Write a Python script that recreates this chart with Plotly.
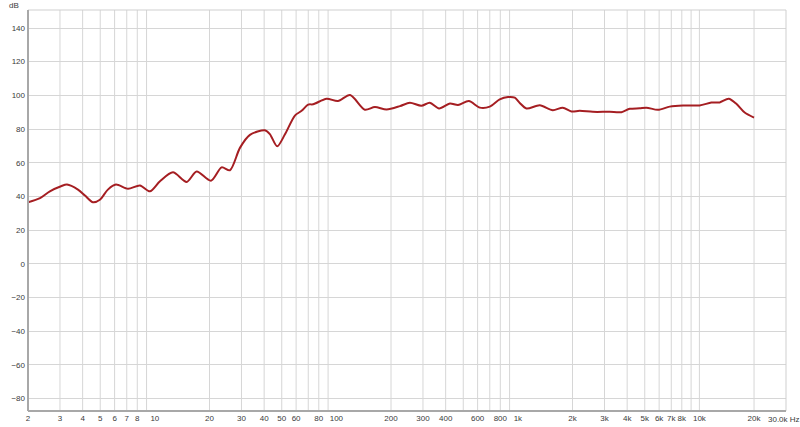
import plotly.graph_objects as go

freq_hz = [2, 2.33, 2.64, 3.04, 3.28, 3.77, 4.12, 4.56, 4.98, 5.51, 6.10, 7.11, 8.28, 9.39,
           10.67, 12.58, 14.96, 16.99, 20.36, 23.32, 25.91, 29.42, 33.39, 40.38, 43.0, 47.2,
           52.0, 59.1, 64.3, 69.9, 74.5, 88.3, 102, 119, 143.5, 163, 189, 224, 254, 294, 327,
           368, 422, 468, 537, 617, 700, 794, 883, 962, 1024, 1115, 1320, 1557, 1767, 1973,
           2191, 2584, 3205, 3718, 4131, 4688, 5107, 5914, 6860, 8119, 10030, 11640, 12930,
           14500, 15980, 17760, 20000]
level_db = [36.5, 39.0, 43.0, 46.0, 47.0, 44.0, 40.5, 36.5, 38.0, 44.0, 47.0, 44.5, 46.5, 43.0,
            49.0, 54.3, 48.6, 54.8, 49.3, 57.2, 55.5, 68.8, 76.5, 79.3, 77.0, 69.7,
            76.7, 88.0, 90.8, 94.5, 94.7, 98.0, 96.6, 100.2, 91.5, 93.1, 91.6, 93.6, 95.6, 93.8, 95.6,
            92.2, 95.2, 94.3, 96.6, 92.7, 93.3, 97.6, 99.0, 98.6, 95.5, 92.2, 94.1, 91.2, 92.7, 90.4,
            90.8, 90.2, 90.2, 90.0, 92.0, 92.3, 92.7, 91.4, 93.3, 94.0, 94.0, 95.7, 95.8,
            98.0, 95.0, 89.8, 86.8]

x_tick_vals = [2, 3, 4, 5, 6, 7, 8, 10, 20, 30, 40, 50, 60, 80, 100, 200, 300, 400, 600, 800,
               1000, 2000, 3000, 4000, 5000, 6000, 7000, 8000, 10000, 20000]
x_tick_text = ["2", "3", "4", "5", "6", "7", "8", "10", "20", "30", "40", "50", "60", "80", "100",
               "200", "300", "400", "600", "800", "1k", "2k", "3k", "4k", "5k", "6k", "7k", "8k",
               "10k", "20k"]
x_grid_vals = [m * d for d in (1, 10, 100, 1000) for m in range(2, 10)] + [10000, 20000]
y_tick_vals = list(range(-80, 141, 20))

fig = go.Figure()
fig.add_trace(go.Scatter(x=freq_hz, y=level_db, mode="lines",
                         line=dict(color="#a51e22", width=2, shape="spline", smoothing=0.8),
                         hoverinfo="skip", showlegend=False))

# vertical grid
for v in x_grid_vals:
    fig.add_shape(type="line", xref="x", yref="paper", x0=v, x1=v, y0=0, y1=1,
                  line=dict(color="#d6d6d6", width=1), layer="below")

fig.update_layout(
    width=800, height=427,
    margin=dict(l=28, r=14, t=10, b=16, autoexpand=False),
    paper_bgcolor="white", plot_bgcolor="white",
    font=dict(family="Liberation Sans, Arial, sans-serif", size=8, color="#3a3a3a"),
    xaxis=dict(type="log", range=[0.30103, 4.4771], tickvals=x_tick_vals, ticktext=x_tick_text,
               showgrid=False, zeroline=False, ticks="", showline=False, tickangle=0,
               automargin=False, ticklabelstandoff=1),
    yaxis=dict(range=[-87.5, 150.7], tickvals=y_tick_vals, showgrid=True, gridcolor="#d6d6d6",
               gridwidth=1, zeroline=False, ticks="", showline=False, automargin=False,
               ticklabelstandoff=2),
)

# frame
fig.add_shape(type="line", xref="paper", yref="paper", x0=0, x1=1, y0=1, y1=1,
              line=dict(color="#cfcfcf", width=1))
fig.add_shape(type="line", xref="paper", yref="paper", x0=1, x1=1, y0=0, y1=1,
              line=dict(color="#cfcfcf", width=1))
fig.add_shape(type="line", xref="paper", yref="paper", x0=0, x1=0, y0=0, y1=1,
              line=dict(color="#a8a8a8", width=2))
fig.add_shape(type="line", xref="paper", yref="paper", x0=0, x1=1, y0=0, y1=0,
              line=dict(color="#a8a8a8", width=2))

fig.add_annotation(text="dB", xref="paper", yref="paper", x=0, y=1, xanchor="right",
                   yanchor="bottom", xshift=-7, yshift=-2, showarrow=False,
                   font=dict(size=8, color="#3a3a3a"))
fig.add_annotation(text="30.0k Hz", xref="paper", yref="paper", x=1, y=0, xanchor="left",
                   yanchor="top", xshift=-20, yshift=-2, showarrow=False,
                   font=dict(size=8, color="#3a3a3a"))

fig.write_html("out.html", config={"displayModeBar": False},
               post_script="document.body.style.margin='0';")
